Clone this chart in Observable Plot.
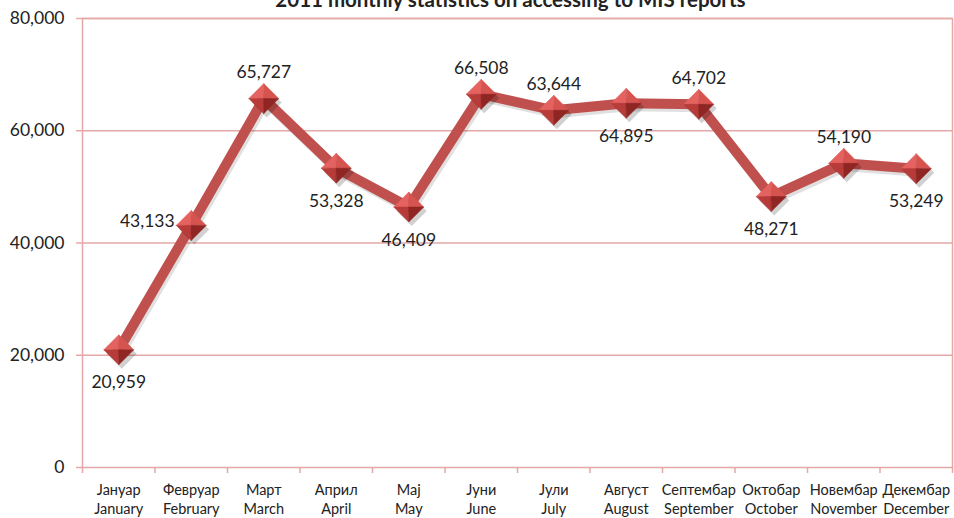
<!DOCTYPE html>
<html>
<head>
<meta charset="utf-8">
<script src="https://cdn.jsdelivr.net/npm/d3@7"></script>
<script src="https://cdn.jsdelivr.net/npm/@observablehq/plot@0.6"></script>
<style>
  html, body { margin: 0; padding: 0; background: #fff; }
  #chart svg { display: block; }
</style>
</head>
<body>
<div id="chart"></div>
<script>
const title = "2011 monthly statistics on accessing to MIS reports";
const monthsMk = ["Јануар","Февруар","Март","Април","Мај","Јуни","Јули","Август","Септембар","Октобар","Новембар","Декембар"];
const monthsEn = ["January","February","March","April","May","June","July","August","September","October","November","December"];
const values = [20959, 43133, 65727, 53328, 46409, 66508, 63644, 64895, 64702, 48271, 54190, 53249];
const labelPlacement = ["below","left","above","below","below","above","above","below","above","below","above","below"];
const yTicks = [0, 20000, 40000, 60000, 80000];

const data = values.map((v, i) => ({i: i + 0.5, v, place: labelPlacement[i]}));

const pink = "#e3a8a7";
const red = "#c0504d";
const font = "Lato, 'Open Sans', sans-serif";

function face(points) {
  return {
    draw(ctx, size) {
      const h = Math.sqrt(size / Math.PI);
      ctx.moveTo(points[0][0] * h, points[0][1] * h);
      for (let k = 1; k < points.length; k++) ctx.lineTo(points[k][0] * h, points[k][1] * h);
      ctx.closePath();
    }
  };
}
const T = [0, -1], R = [1, 0], B = [0, 1], L = [-1, 0], C = [0, 0];
const diamond = face([T, R, B, L]);
const faces = [
  {sym: face([L, T, C]), fill: "#e4625f"},
  {sym: face([T, R, C]), fill: "#d65450"},
  {sym: face([B, L, C]), fill: "#b73b38"},
  {sym: face([R, B, C]), fill: "#8f2624"}
];
const fmt = d3.format(",");

const markR = 15;
const chart = Plot.plot({
  width: 954,
  height: 518,
  marginTop: 18,
  marginBottom: 51,
  marginLeft: 82,
  marginRight: 2,
  style: {fontFamily: font, color: "#222", background: "#fff"},
  x: {type: "linear", domain: [0, 12], label: null},
  y: {domain: [0, 80000], label: null},
  marks: [
    Plot.ruleY(yTicks.slice(1), {stroke: pink, strokeWidth: 1.3}),
    Plot.frame({stroke: pink, strokeWidth: 1.5}),
    Plot.axisY({ticks: yTicks, tickFormat: fmt, tickSize: 6, tickPadding: 12, fontSize: 17.5, stroke: pink, fill: "#222", strokeWidth: 1.5, label: null}),
    Plot.axisX({ticks: d3.range(0, 13), tickFormat: () => "", tickSize: 6, stroke: pink, strokeWidth: 1.5, label: null}),
    Plot.axisX({ticks: d3.range(12).map(d => d + 0.5), tickSize: 0, tickPadding: 14, fontSize: 14.5, fill: "#222", label: null,
      tickFormat: (d) => { const k = Math.floor(d); return monthsMk[k] + "\n" + monthsEn[k]; }, lineHeight: 1.3}),
    // line shadow
    Plot.line(data, {x: "i", y: "v", stroke: "#000", strokeOpacity: 0.12, strokeWidth: 10, dx: 2, dy: 3}),
    Plot.line(data, {x: "i", y: "v", stroke: red, strokeWidth: 10}),
    // marker shadow
    Plot.dot(data, {x: "i", y: "v", r: markR, symbol: diamond, fill: "#000", fillOpacity: 0.18, stroke: "none", dx: 3, dy: 4}),
    ...faces.map(f => Plot.dot(data, {x: "i", y: "v", r: markR, symbol: f.sym, fill: f.fill, stroke: f.fill, strokeWidth: 0.5})),
    Plot.text(data.filter(d => d.place === "above"), {x: "i", y: "v", text: d => fmt(d.v), dy: -26, fontSize: 17.5, fill: "#222"}),
    Plot.text(data.filter(d => d.place === "below"), {x: "i", y: "v", text: d => fmt(d.v), dy: 33, fontSize: 17.5, fill: "#222"}),
    Plot.text(data.filter(d => d.place === "left"), {x: "i", y: "v", text: d => fmt(d.v), dx: -44, dy: -4, fontSize: 17.5, fill: "#222"}),
    Plot.text([title], {frameAnchor: "top", x: 6, text: d => d, dx: -7, dy: -26, fontSize: 20.5, fontWeight: "bold", fill: "#222"})
  ]
});
document.getElementById("chart").appendChild(chart);
</script>
</body>
</html>
